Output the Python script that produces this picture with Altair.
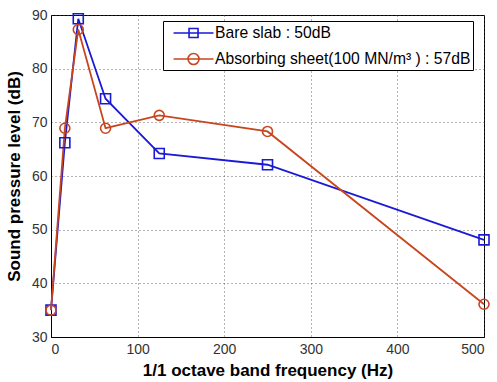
import altair as alt
import pandas as pd

freq = [0, 16, 31.5, 63, 125, 250, 500]
bare_slab = [35, 66.2, 89.3, 74.4, 64.2, 62.1, 48.1]
absorbing = [35, 68.9, 87.3, 68.9, 71.3, 68.3, 36.1]
series_names = ["Bare slab : 50dB", "Absorbing sheet(100 MN/m\u00b3 ) : 57dB\u00a0"]
series_colors = ["#1a1ad6", "#c8461e"]
marker_shapes = ["square", "circle"]
x_ticks = [0, 100, 200, 300, 400, 500]
y_ticks = [30, 40, 50, 60, 70, 80, 90]

# legend glyphs: line with marker through it (unit = 9 px)
legend_glyphs = [
    "M-0.16,0H4.28M1.56,-0.5H2.56V0.5H1.56Z",
    "M-0.16,0H4.28M2.67,0A0.61,0.61,0,1,1,1.45,0A0.61,0.61,0,1,1,2.67,0",
]

rows = []
for f, v in zip(freq, bare_slab):
    rows.append({"f": f, "spl": v, "s": series_names[0]})
for f, v in zip(freq, absorbing):
    rows.append({"f": f, "spl": v, "s": series_names[1]})
df = pd.DataFrame(rows)

FONT = "Liberation Sans"

x = alt.X("f:Q", scale=alt.Scale(domain=[0, 500], nice=False, zero=False, padding=0),
          axis=alt.Axis(values=x_ticks, title="1/1 octave band frequency (Hz)",
                        titlePadding=6, labelPadding=5))
y = alt.Y("spl:Q", scale=alt.Scale(domain=[30, 90], nice=False, zero=False, padding=0),
          axis=alt.Axis(values=y_ticks, title="Sound pressure level (dB)",
                        titlePadding=8, labelPadding=4))
color_nolegend = alt.Color("s:N", scale=alt.Scale(domain=series_names, range=series_colors), legend=None)

lines = alt.Chart(df).mark_line(strokeWidth=1.8).encode(x=x, y=y, color=color_nolegend)
points = alt.Chart(df).mark_point(filled=False, strokeWidth=1.6, size=100, opacity=1).encode(
    x=x, y=y, color=color_nolegend,
    shape=alt.Shape("s:N", scale=alt.Scale(domain=series_names, range=marker_shapes), legend=None),
)

leg = alt.Legend(title=None, orient="none", legendX=112, legendY=6,
                 symbolSize=324, symbolStrokeWidth=1.6, symbolOpacity=1,
                 symbolFillColor="transparent",
                 labelFont=FONT, labelFontSize=15.7, labelColor="black",
                 labelOffset=30, padding=2, rowPadding=8,
                 strokeColor="black", fillColor="white", labelLimit=400)
legend_layer = alt.Chart(df).mark_point(filled=False, opacity=0, size=324).encode(
    x=x, y=y,
    color=alt.Color("s:N", scale=alt.Scale(domain=series_names, range=series_colors), legend=leg),
    shape=alt.Shape("s:N", scale=alt.Scale(domain=series_names, range=legend_glyphs), legend=leg),
)

chart = alt.layer(lines, points, legend_layer).resolve_scale(
    color="independent", shape="independent"
).properties(
    width=433, height=322,
    padding={"left": 51, "top": 15, "right": 13, "bottom": 45},
    autosize=alt.AutoSizeParams(type="none"),
    background="white",
).configure_view(stroke="black", strokeWidth=1).configure_axis(
    grid=True, gridDash=[1, 3], gridColor="#444", gridOpacity=0.8,
    domainColor="black", ticks=False,
    labelFont=FONT, labelFontSize=14, labelColor="#333",
    titleFont=FONT, titleFontSize=17, titleFontWeight="bold", titleColor="black",
)

chart.save("out.html", embed_options={"renderer": "svg", "actions": False})
